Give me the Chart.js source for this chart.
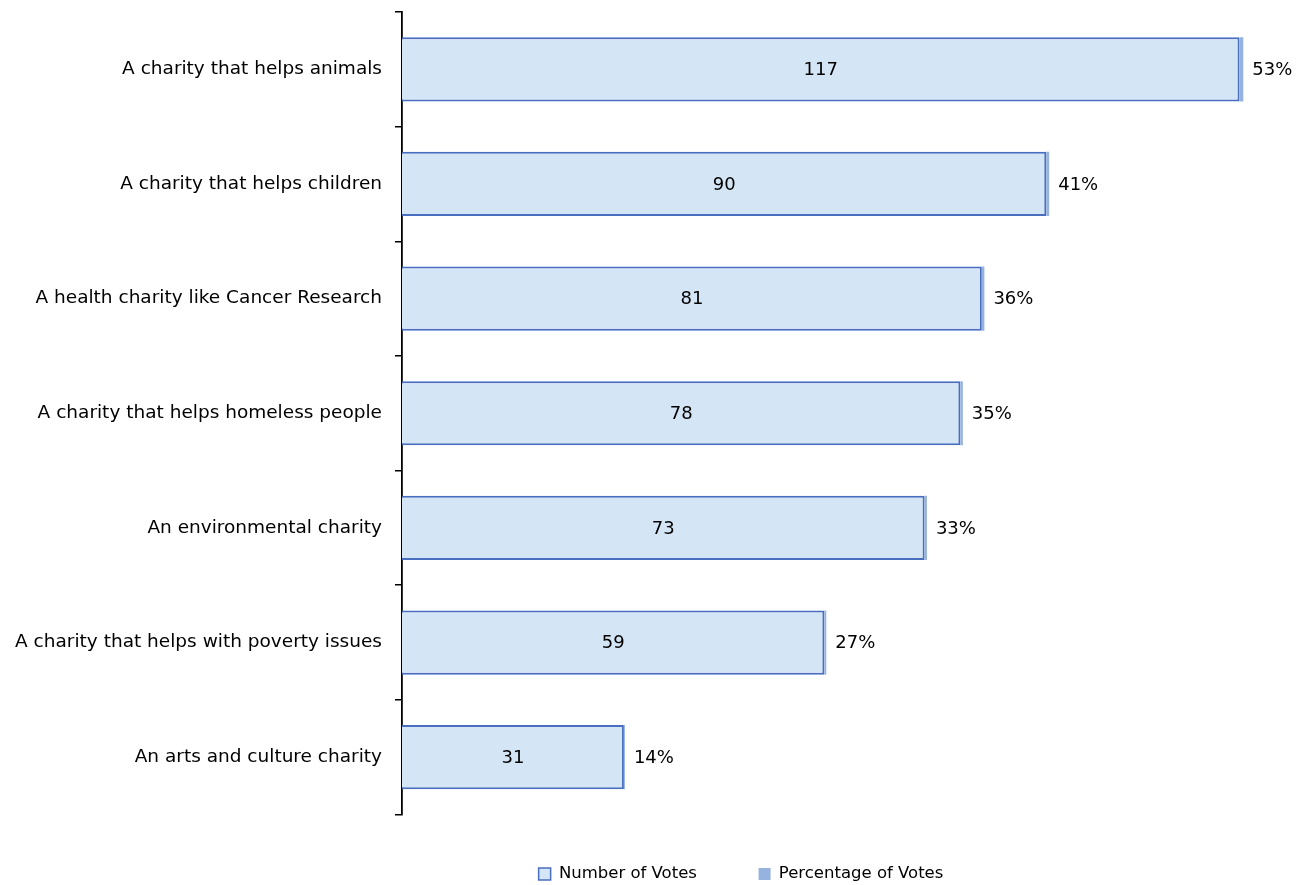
<!DOCTYPE html>
<html>
<head>
<meta charset="utf-8">
<script src="https://cdn.jsdelivr.net/npm/chart.js@4/dist/chart.umd.min.js"></script>
<style>
  html, body { margin: 0; padding: 0; background: #fff; }
  #wrap { width: 1307px; height: 885px; position: relative; }
</style>
</head>
<body>
<div id="wrap"><canvas id="c"></canvas></div>
<script>
const categories = [
  "A charity that helps animals",
  "A charity that helps children",
  "A health charity like Cancer Research",
  "A charity that helps homeless people",
  "An environmental charity",
  "A charity that helps with poverty issues",
  "An arts and culture charity"
];
const numberOfVotes = [117, 90, 81, 78, 73, 59, 31];
const percentageOfVotes = [0.53, 0.41, 0.36, 0.35, 0.33, 0.27, 0.14];
const seriesNames = ["Number of Votes", "Percentage of Votes"];

const FONT = "'DejaVu Sans', Verdana, sans-serif";
const FILL = "#D4E5F5";
const EDGE = "#4A6EBF";
const PCT = "#95B3DE";
const LEGEND_FONT = 16.5;
const LEGEND_PAD = 4;

const labelPlugin = {
  id: 'barLabels',
  afterDatasetsDraw(chart) {
    const ctx = chart.ctx;
    ctx.save();
    ctx.font = "18px " + FONT;
    ctx.fillStyle = "#000";
    ctx.textBaseline = "middle";
    const m0 = chart.getDatasetMeta(0);
    const m1 = chart.getDatasetMeta(1);
    m0.data.forEach((bar, i) => {
      ctx.textAlign = "center";
      ctx.fillText(String(numberOfVotes[i]), (bar.x + bar.base) / 2, bar.y + 1);
    });
    m1.data.forEach((bar, i) => {
      ctx.textAlign = "left";
      ctx.fillText(Math.round(percentageOfVotes[i] * 100) + "%", bar.x + 9, bar.y + 1);
    });
    ctx.restore();
  }
};

const legendPlace = {
  id: 'legendPlace',
  afterLayout(chart) {
    const lg = chart.legend;
    if (!lg) return;
    const w = lg.right - lg.left;
    const h = lg.bottom - lg.top;
    const cx = 741;
    const cy = 874;
    lg.left = cx - w / 2;
    lg.right = cx + w / 2;
    lg.top = cy - LEGEND_PAD - LEGEND_FONT / 2;
    lg.bottom = lg.top + h;
  }
};

new Chart(document.getElementById('c'), {
  type: 'bar',
  data: {
    labels: categories,
    datasets: [
      {
        label: seriesNames[0],
        data: numberOfVotes,
        backgroundColor: FILL,
        borderColor: EDGE,
        borderWidth: 2,
        borderSkipped: 'start',
        categoryPercentage: 1,
        barPercentage: 0.56
      },
      {
        label: seriesNames[1],
        data: percentageOfVotes,
        backgroundColor: PCT,
        borderWidth: 0,
        categoryPercentage: 1,
        barPercentage: 0.56
      }
    ]
  },
  options: {
    indexAxis: 'y',
    responsive: true,
    maintainAspectRatio: false,
    animation: false,
    layout: { padding: { left: 0, right: 46, top: 12, bottom: 0 } },
    scales: {
      x: {
        stacked: true,
        min: 0,
        max: 120,
        display: true,
        ticks: { display: false },
        grid: { display: false },
        border: { display: false },
        afterFit(scale) { scale.height = 40; }
      },
      y: {
        stacked: true,
        offset: true,
        afterFit(scale) {
          scale.width = 402;
          scale.paddingTop = 0;
          scale.paddingBottom = 0;
        },
        ticks: {
          color: "#000",
          font: { family: FONT, size: 18.5 },
          padding: 13
        },
        grid: {
          display: true,
          offset: true,
          drawOnChartArea: false,
          drawTicks: true,
          tickLength: 7,
          color: "#000",
          lineWidth: 1.5
        },
        border: { display: true, color: "#000", width: 1.8 }
      }
    },
    plugins: {
      tooltip: { enabled: false },
      legend: {
        position: 'bottom',
        labels: {
          color: "#000",
          font: { family: FONT, size: LEGEND_FONT },
          boxWidth: 12,
          boxHeight: 12,
          padding: LEGEND_PAD,
          generateLabels(chart) {
            const items = Chart.defaults.plugins.legend.labels.generateLabels(chart);
            items.forEach((it, i) => {
              if (i === 0) {
                it.text = it.text + "           ";
                it.fillStyle = FILL;
                it.strokeStyle = EDGE;
                it.lineWidth = 1.5;
              } else {
                it.fillStyle = PCT;
                it.strokeStyle = PCT;
                it.lineWidth = 0;
              }
            });
            return items;
          }
        }
      }
    }
  },
  plugins: [labelPlugin, legendPlace]
});
</script>
</body>
</html>
